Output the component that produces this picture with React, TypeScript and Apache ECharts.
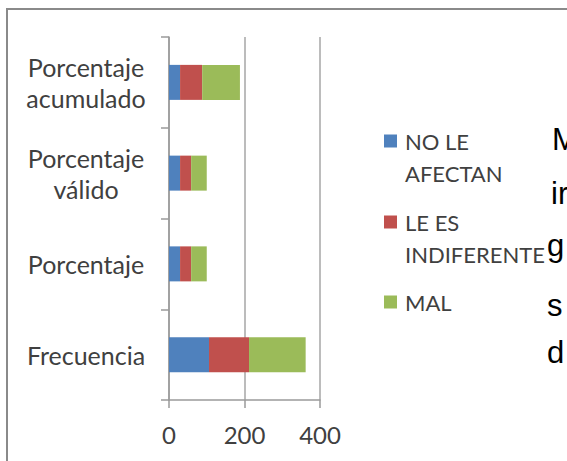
import React, { useEffect, useRef } from "react";
import * as echarts from "echarts";

const categories = ["Frecuencia", "Porcentaje", "Porcentaje\nválido", "Porcentaje\nacumulado"];
const seriesNames = ["NO LE AFECTAN", "LE ES INDIFERENTE", "MAL"];
const legendLabels = ["NO LE\nAFECTAN", "LE ES\nINDIFERENTE", "MAL"];
const noLeAfectan = [106, 29.3, 29.3, 29.3];
const leEsIndiferente = [106, 29.3, 29.3, 58.6];
const mal = [150, 41.4, 41.4, 100];
const xTicks = [0, 200, 400];
const sideText = ["M", "ir", "g", "s", "d"];

const colors = ["#4F81BD", "#C0504D", "#9BBB59"];

export default function App() {
  const ref = useRef<HTMLDivElement>(null);
  useEffect(() => {
    document.body.style.margin = "0";
    if (!ref.current) return;
    const chart = echarts.init(ref.current, undefined, { renderer: "svg" });
    const values = [noLeAfectan, leEsIndiferente, mal];
    const textColor = "#404040";
    const font = "Lato";
    const legendTops = [93, 174, 286];
    const sideBottoms = [155, 209, 261, 321, 368];
    const sideX = [552, 551, 547, 547, 547];
    chart.setOption({
      animation: false,
      backgroundColor: "#ffffff",
      grid: { left: 169, right: 247, top: 37, bottom: 61, containLabel: false },
      xAxis: {
        type: "value",
        min: xTicks[0],
        max: xTicks[xTicks.length - 1],
        interval: xTicks[1] - xTicks[0],
        axisLine: { show: true, lineStyle: { color: "#9a9a9a", width: 1.5 } },
        axisTick: { show: true, length: 8, lineStyle: { color: "#9a9a9a", width: 1.5 } },
        splitLine: { show: true, lineStyle: { color: "#a6a6a6", width: 1.5 } },
        axisLabel: { color: textColor, fontSize: 24, fontFamily: font, margin: 22 },
      },
      yAxis: {
        type: "category",
        data: categories,
        axisLine: { show: true, lineStyle: { color: "#9a9a9a", width: 1.5 } },
        axisTick: { show: true, length: 8, lineStyle: { color: "#9a9a9a", width: 1.5 } },
        axisLabel: {
          color: textColor,
          fontSize: 25,
          fontFamily: font,
          lineHeight: 31,
          align: "center",
          margin: 83,
        },
      },
      legend: seriesNames.map((name, i) => ({
        data: [name],
        left: 384,
        top: legendTops[i],
        padding: 0,
        orient: "vertical",
        itemWidth: 13,
        itemHeight: 13,
        itemGap: 8,
        icon: "rect",
        selectedMode: false,
        formatter: () => (legendLabels[i].indexOf("\n") >= 0 ? "\n" + legendLabels[i] : legendLabels[i]),
        textStyle: {
          color: textColor,
          fontSize: 22,
          fontFamily: font,
          lineHeight: 32,
          padding: [0, 0, 0, 3],
        },
      })),
      series: seriesNames.map((name, i) => ({
        name,
        type: "bar",
        stack: "total",
        barWidth: 35,
        itemStyle: { color: colors[i] },
        data: values[i],
      })),
      graphic: [
        {
          type: "rect",
          shape: { x: 7, y: 9, width: 700, height: 600 },
          style: { fill: "none", stroke: "#8a8a8a", lineWidth: 2 },
          silent: true,
        },
        ...sideText.map((t, i) => ({
          type: "text",
          x: sideX[i],
          y: sideBottoms[i],
          style: {
            text: t,
            fill: "#000000",
            fontSize: 31,
            fontFamily: "Liberation Sans",
            verticalAlign: "bottom",
          },
          silent: true,
        })),
      ],
    });
    return () => chart.dispose();
  }, []);
  return <div ref={ref} style={{ width: 567, height: 461 }} />;
}
